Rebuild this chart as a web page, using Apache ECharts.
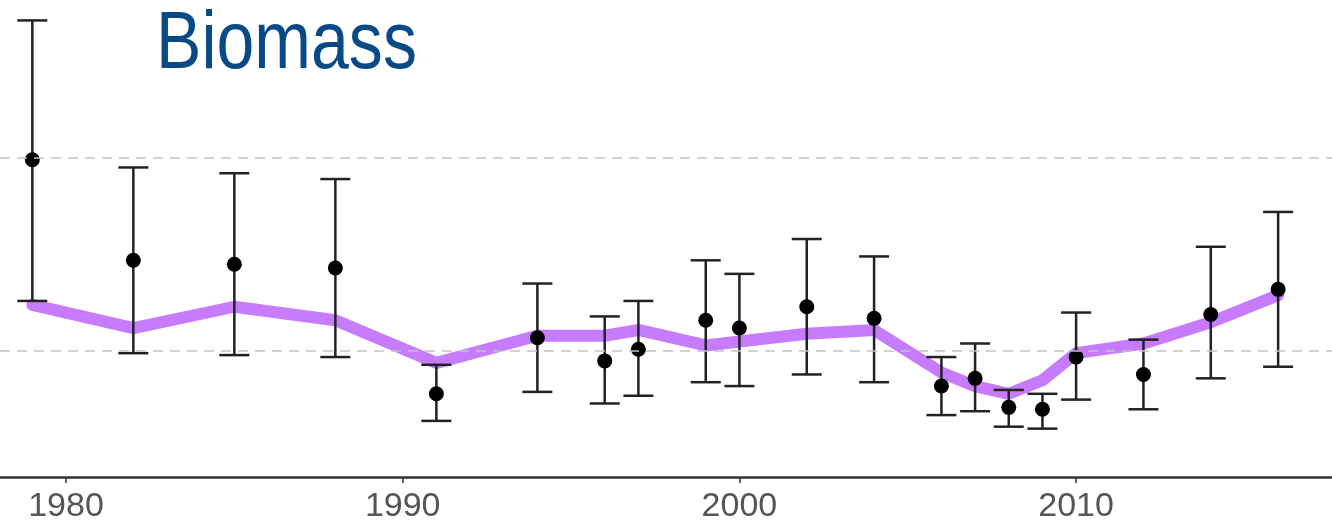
<!DOCTYPE html>
<html>
<head>
<meta charset="utf-8">
<script src="https://cdn.jsdelivr.net/npm/echarts@6/dist/echarts.min.js"></script>
<style>
  html, body { margin: 0; padding: 0; background: #ffffff; }
  #chart { width: 1332px; height: 522px; }
</style>
</head>
<body>
<div id="chart"></div>
<script>
// Survey years and biomass index estimates with their intervals
const years    = [1979, 1982, 1985, 1988, 1991, 1994, 1996, 1997, 1999, 2000, 2002, 2004, 2006, 2007, 2008, 2009, 2010, 2012, 2014, 2016];
const estimate = [1.99, 1.47, 1.45, 1.43, 0.78, 1.07, 0.95, 1.01, 1.16, 1.12, 1.23, 1.17, 0.82, 0.86, 0.71, 0.70, 0.97, 0.88, 1.19, 1.32];
const upper    = [2.71, 1.95, 1.92, 1.89, 0.93, 1.35, 1.18, 1.26, 1.47, 1.40, 1.58, 1.49, 0.97, 1.04, 0.80, 0.78, 1.20, 1.06, 1.54, 1.72];
const lower    = [1.26, 0.99, 0.98, 0.97, 0.64, 0.79, 0.73, 0.77, 0.84, 0.82, 0.88, 0.84, 0.67, 0.69, 0.61, 0.60, 0.75, 0.70, 0.86, 0.92];
// Fitted trend through the same years
const trend    = [1.24, 1.12, 1.23, 1.16, 0.94, 1.08, 1.08, 1.11, 1.03, 1.05, 1.09, 1.11, 0.89, 0.82, 0.78, 0.85, 0.99, 1.04, 1.15, 1.29];
// Reference levels drawn as dashed guides
const guideLevels = [1, 2];
const yearTicks = [1980, 1990, 2000, 2010];
const titleText = 'Biomass';

const chart = echarts.init(document.getElementById('chart'), null, { renderer: 'canvas' });

const trendData = years.map((y, i) => [y, trend[i]]);
const pointData = years.map((y, i) => [y, estimate[i]]);
const barData   = years.map((y, i) => [y, lower[i], upper[i]]);

const option = {
  animation: false,
  backgroundColor: '#ffffff',
  grid: { left: 0, right: 0, top: 3, bottom: 45, outerBoundsMode: 'none', containLabel: false },
  xAxis: {
    type: 'value',
    min: 1978.04,
    max: 2017.6,
    splitLine: { show: false },
    axisLine: { show: true, onZero: false, lineStyle: { color: '#333333', width: 2.5 } },
    axisTick: { show: true, customValues: yearTicks, length: 6, lineStyle: { color: '#333333', width: 1.5 } },
    axisLabel: {
      customValues: yearTicks,
      formatter: v => String(v),
      margin: 13,
      color: '#555555',
      fontSize: 34,
      fontFamily: '"Liberation Sans", Arial, sans-serif'
    }
  },
  yAxis: {
    type: 'value',
    min: 0.35,
    max: 2.8,
    show: false,
    splitLine: { show: false }
  },
  graphic: [{
    type: 'text',
    x: 156,
    y: 5,
    scaleX: 0.84,
    style: {
      text: titleText,
      font: '81px "Liberation Sans", Arial, sans-serif',
      fill: '#084a86'
    }
  }],
  series: [
    {
      name: 'trend',
      type: 'line',
      data: trendData,
      symbol: 'none',
      z: 2,
      lineStyle: { color: '#c77cff', width: 12, cap: 'round', join: 'round' },
      markLine: {
        silent: true,
        symbol: 'none',
        label: { show: false },
        lineStyle: { color: '#c4c4c4', type: [10, 7], width: 1.6 },
        data: guideLevels.map(v => ({ yAxis: v }))
      }
    },
    {
      name: 'interval',
      type: 'custom',
      z: 3,
      data: barData,
      encode: { x: 0, y: [1, 2] },
      renderItem: function (params, api) {
        const x = api.value(0);
        const top = api.coord([x, api.value(2)]);
        const bot = api.coord([x, api.value(1)]);
        const hw = 15;
        const style = { stroke: '#222222', lineWidth: 2.5 };
        return {
          type: 'group',
          children: [
            { type: 'line', shape: { x1: top[0], y1: top[1], x2: bot[0], y2: bot[1] }, style: style },
            { type: 'line', shape: { x1: top[0] - hw, y1: top[1], x2: top[0] + hw, y2: top[1] }, style: style },
            { type: 'line', shape: { x1: bot[0] - hw, y1: bot[1], x2: bot[0] + hw, y2: bot[1] }, style: style }
          ]
        };
      }
    },
    {
      name: 'estimate',
      type: 'scatter',
      z: 4,
      data: pointData,
      symbol: 'circle',
      symbolSize: 15,
      itemStyle: { color: '#000000', opacity: 1 }
    }
  ]
};

chart.setOption(option);
</script>
</body>
</html>
